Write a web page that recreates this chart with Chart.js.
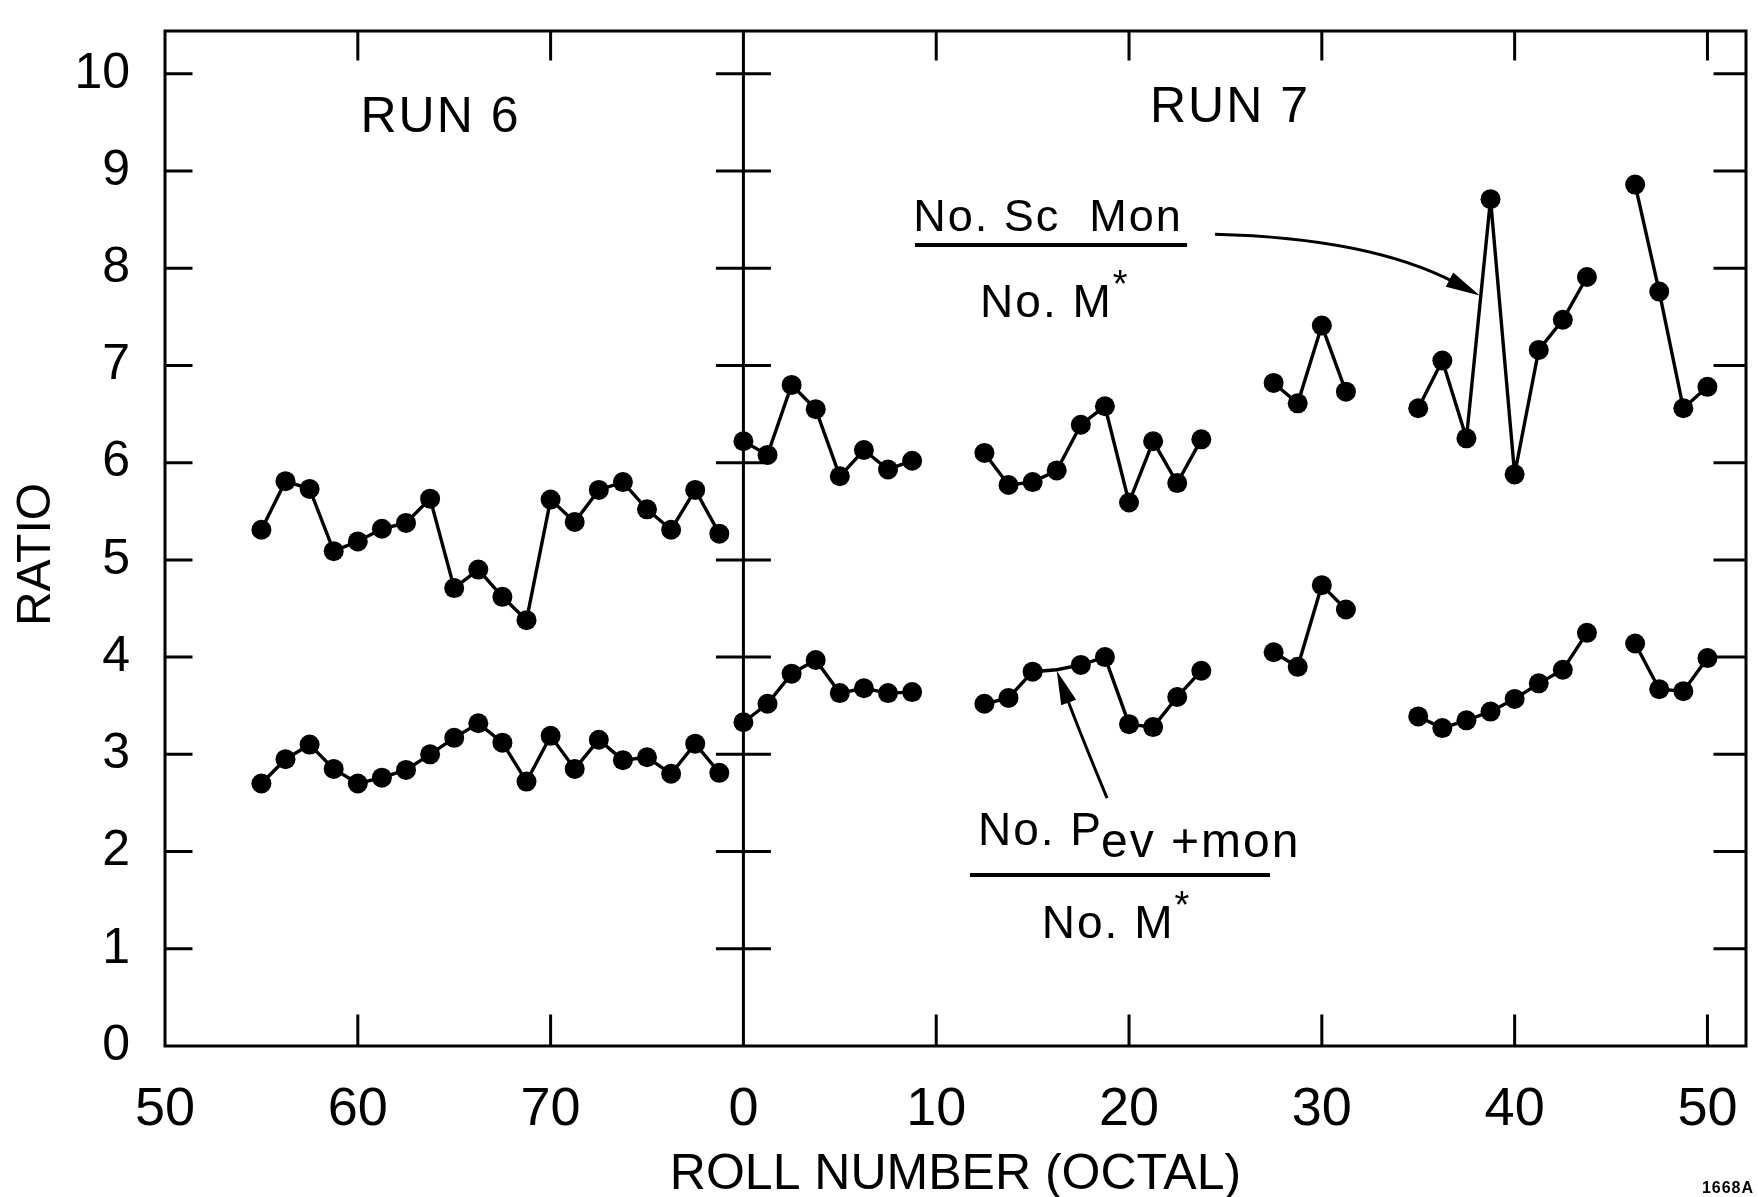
<!DOCTYPE html>
<html>
<head>
<meta charset="utf-8">
<script src="https://cdn.jsdelivr.net/npm/chart.js@4.4.1/dist/chart.umd.min.js"></script>
<style>
  html, body { margin: 0; padding: 0; background: #fff; }
  #wrap { width: 1758px; height: 1197px; }
</style>
</head>
<body>
<div id="wrap"><canvas id="chart" width="1758" height="1197"></canvas></div>
<script>
// roll numbers are octal, as on the original axis
const xTickLabels = ['50', '60', '70', '0', '10', '20', '30', '40', '50'];
const yTickLabels = ['0', '1', '2', '3', '4', '5', '6', '7', '8', '9', '10'];

const run6Rolls = ['54', '55', '56', '57', '60', '61', '62', '63', '64', '65',
                   '66', '67', '70', '71', '72', '73', '74', '75', '76', '77'];
const run6ScMon = [5.31, 5.81, 5.73, 5.09, 5.19, 5.32, 5.38, 5.63, 4.71, 4.90,
                   4.62, 4.38, 5.62, 5.39, 5.72, 5.80, 5.52, 5.31, 5.72, 5.27];
const run6Pev =   [2.70, 2.95, 3.10, 2.85, 2.70, 2.76, 2.84, 3.00, 3.17, 3.32,
                   3.12, 2.72, 3.19, 2.85, 3.15, 2.94, 2.97, 2.80, 3.11, 2.81];

const run7Rolls = ['0', '1', '2', '3', '4', '5', '6', '7',
                   '10', '11', '12', '13', '14', '15', '16', '17',
                   '20', '21', '22', '23', '24', '25', '26', '27',
                   '30', '31', '32', '33', '34', '35', '36', '37',
                   '40', '41', '42', '43', '44', '45', '46', '47', '50'];
const run7ScMon = [6.22, 6.08, 6.80, 6.55, 5.86, 6.13, 5.93, 6.02,
                   null, null, 6.10, 5.77, 5.80, 5.92, 6.39, 6.58,
                   5.59, 6.22, 5.79, 6.24, null, null, 6.82, 6.61,
                   7.41, 6.73, null, null, 6.56, 7.05, 6.25, 8.71,
                   5.88, 7.16, 7.47, 7.91, null, 8.86, 7.76, 6.56, 6.78];
const run7Pev =   [3.33, 3.52, 3.83, 3.97, 3.63, 3.68, 3.63, 3.64,
                   null, null, 3.52, 3.58, 3.85, 3.87, 3.92, 4.00,
                   3.31, 3.28, 3.59, 3.86, null, null, 4.05, 3.90,
                   4.74, 4.49, null, null, 3.39, 3.27, 3.35, 3.44,
                   3.57, 3.73, 3.87, 4.25, null, 4.14, 3.67, 3.65, 3.99];
// roll where the arrow tip hides the marker
const run7PevNoDot = ['15'];

const run6Offset = -parseInt(xTickLabels[0], 8);
const run7Offset = parseInt('100', 8) - parseInt(xTickLabels[0], 8);

function toPoints(rolls, values, offset) {
  return rolls.map((r, i) => ({ x: offset + parseInt(r, 8), y: values[i] }));
}

const FONT = '"Liberation Sans", Arial, sans-serif';
Chart.defaults.font.family = FONT;
Chart.defaults.color = '#000';

const lineStyle = {
  borderColor: '#000',
  backgroundColor: '#000',
  borderWidth: 3.4,
  pointRadius: 10,
  pointHoverRadius: 10,
  pointBorderWidth: 0,
  tension: 0,
  spanGaps: false
};

function arrow(ctx, x0, y0, cx, cy, x1, y1) {
  const ang = Math.atan2(y1 - cy, x1 - cx);
  const len = 34, half = 8;
  const bx = x1 - len * Math.cos(ang), by = y1 - len * Math.sin(ang);
  ctx.beginPath();
  ctx.moveTo(x0, y0);
  ctx.quadraticCurveTo(cx, cy, bx + 6 * Math.cos(ang), by + 6 * Math.sin(ang));
  ctx.stroke();
  ctx.beginPath();
  ctx.moveTo(x1, y1);
  ctx.lineTo(bx - half * Math.sin(ang), by + half * Math.cos(ang));
  ctx.lineTo(bx + half * Math.sin(ang), by - half * Math.cos(ang));
  ctx.closePath();
  ctx.fill();
}

const framePlugin = {
  id: 'frame',
  afterDatasetsDraw(chart) {
    const { ctx, chartArea: a, scales: { x, y } } = chart;
    const X = p => x.getPixelForValue(p);
    const Y = v => y.getPixelForValue(v);
    ctx.save();
    ctx.strokeStyle = '#000';
    ctx.fillStyle = '#000';
    ctx.lineWidth = 3;
    ctx.lineCap = 'square';

    // box, run divider and tick marks
    const xd = X(run7Offset);
    ctx.beginPath();
    ctx.moveTo(a.left, a.top); ctx.lineTo(a.left, a.bottom); ctx.lineTo(a.right, a.bottom);
    ctx.lineTo(a.right, a.top); ctx.closePath();
    ctx.moveTo(xd, a.top); ctx.lineTo(xd, a.bottom);
    for (let v = 1; v < yTickLabels.length; v++) {
      ctx.moveTo(a.left, Y(v)); ctx.lineTo(a.left + 26, Y(v));
      ctx.moveTo(a.right, Y(v)); ctx.lineTo(a.right - 31, Y(v));
      ctx.moveTo(xd - 26, Y(v)); ctx.lineTo(xd + 26, Y(v));
    }
    for (let i = 1; i < xTickLabels.length; i++) {
      const p = i * 8;
      if (p === run7Offset) continue;
      ctx.moveTo(X(p), a.bottom); ctx.lineTo(X(p), a.bottom - 30);
      ctx.moveTo(X(p), a.top); ctx.lineTo(X(p), a.top + 28);
    }
    ctx.stroke();

    // y axis title
    ctx.save();
    ctx.translate(37, (a.top + a.bottom) / 2 + 16);
    ctx.rotate(-Math.PI / 2);
    ctx.textAlign = 'center';
    ctx.textBaseline = 'middle';
    ctx.font = '48px ' + FONT;
    ctx.fillText('RATIO', 0, 0);
    ctx.restore();

    ctx.textBaseline = 'alphabetic';
    ctx.letterSpacing = '2px';

    // run titles
    ctx.textAlign = 'center';
    ctx.font = '50px ' + FONT;
    ctx.fillText('RUN 6', X(11.43), Y(9.40));
    ctx.fillText('RUN 7', X(44.19), Y(9.50));

    // upper ratio label
    ctx.font = '45px ' + FONT;
    ctx.fillText('No. Sc  Mon', X(36.64), Y(8.38));
    ctx.lineWidth = 4;
    ctx.lineCap = 'butt';
    ctx.beginPath();
    ctx.moveTo(X(31.12), Y(8.24)); ctx.lineTo(X(42.41), Y(8.24));
    ctx.stroke();
    ctx.textAlign = 'left';
    ctx.font = '46px ' + FONT;
    ctx.fillText('No. M', X(33.82), Y(7.50));
    let w = ctx.measureText('No. M').width;
    ctx.font = '38px ' + FONT;
    ctx.fillText('*', X(33.82) + w, Y(7.50) - 20);

    ctx.lineWidth = 3;
    arrow(ctx, X(43.57), Y(8.35), X(50.0), Y(8.31), X(54.55), Y(7.72));

    // lower ratio label
    ctx.font = '46px ' + FONT;
    const lx = X(33.73);
    ctx.fillText('No. P', lx, Y(2.07));
    w = ctx.measureText('No. P').width;
    ctx.font = '48px ' + FONT;
    ctx.fillText('ev +mon', lx + w - 2, Y(1.94));
    ctx.lineWidth = 4;
    ctx.beginPath();
    ctx.moveTo(X(33.4), Y(1.76)); ctx.lineTo(X(45.85), Y(1.76));
    ctx.stroke();
    ctx.font = '46px ' + FONT;
    ctx.fillText('No. M', X(36.38), Y(1.11));
    w = ctx.measureText('No. M').width;
    ctx.font = '38px ' + FONT;
    ctx.fillText('*', X(36.38) + w, Y(1.11) - 20);

    ctx.lineWidth = 3;
    arrow(ctx, X(39.09), Y(2.55), X(38.0), Y(3.2), X(37.0), Y(3.86));

    // plate number
    ctx.textAlign = 'center';
    ctx.letterSpacing = '1px';
    ctx.font = 'bold 16px ' + FONT;
    ctx.fillText('1668A', 1728, 1193);
    ctx.restore();
  }
};

function noEdgePadding(s) {
  s.paddingTop = 0; s.paddingBottom = 0; s.paddingLeft = 0; s.paddingRight = 0;
}

new Chart(document.getElementById('chart').getContext('2d'), {
  type: 'line',
  data: {
    datasets: [
      { label: 'No. Sc Mon / No. M* (Run 6)', data: toPoints(run6Rolls, run6ScMon, run6Offset), ...lineStyle },
      { label: 'No. Pev+mon / No. M* (Run 6)', data: toPoints(run6Rolls, run6Pev, run6Offset), ...lineStyle },
      { label: 'No. Sc Mon / No. M* (Run 7)', data: toPoints(run7Rolls, run7ScMon, run7Offset), ...lineStyle },
      {
        label: 'No. Pev+mon / No. M* (Run 7)',
        data: toPoints(run7Rolls, run7Pev, run7Offset),
        ...lineStyle,
        pointRadius: c => (run7PevNoDot.includes(run7Rolls[c.dataIndex]) ? 0 : 10)
      }
    ]
  },
  options: {
    responsive: false,
    animation: false,
    devicePixelRatio: 1,
    layout: { padding: { left: 0, right: 12, top: 31, bottom: 0 } },
    plugins: {
      legend: { display: false },
      tooltip: { enabled: false }
    },
    scales: {
      x: {
        type: 'linear',
        min: 0,
        max: 65.6,
        afterFit: s => { s.height = 151; noEdgePadding(s); },
        grid: { display: false, drawTicks: false },
        border: { display: false },
        ticks: {
          stepSize: 8,
          includeBounds: false,
          autoSkip: false,
          maxRotation: 0,
          padding: 32,
          font: { size: 54 },
          callback: v => xTickLabels[v / 8]
        },
        title: {
          display: true,
          text: 'ROLL NUMBER (OCTAL)',
          font: { size: 50, lineHeight: 0.86 },
          padding: 0
        }
      },
      y: {
        min: 0,
        max: 10.44,
        afterFit: s => { s.width = 165; noEdgePadding(s); },
        grid: { display: false, drawTicks: false },
        border: { display: false },
        ticks: {
          stepSize: 1,
          includeBounds: false,
          padding: 35,
          font: { size: 50 },
          callback: v => yTickLabels[v]
        },
        title: { display: false }
      }
    }
  },
  plugins: [framePlugin]
});
</script>
</body>
</html>
